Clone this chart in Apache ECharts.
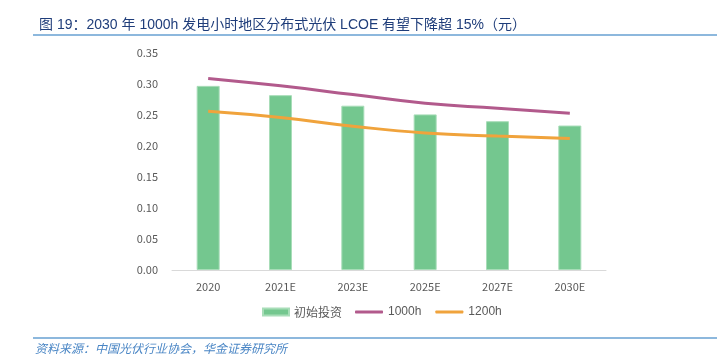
<!DOCTYPE html>
<html><head><meta charset="utf-8">
<script src="https://cdn.jsdelivr.net/npm/echarts@6/dist/echarts.min.js"></script>
<style>html,body{margin:0;padding:0;background:#fff}#c{width:722px;height:357px}</style>
</head><body><div id="c"></div>
<script>
const categories = ['2020','2021E','2023E','2025E','2027E','2030E'];
const investment = [0.297,0.282,0.265,0.251,0.240,0.233];
const h1000 = [0.309,0.297,0.283,0.269,0.261,0.253];
const h1200 = [0.256,0.246,0.232,0.221,0.216,0.212];
const yTicks = {min:0, max:0.35, interval:0.05};

const chart = echarts.init(document.getElementById('c'));
const F = '"Noto Sans CJK SC","Noto Sans",sans-serif';
const TF = '"Liberation Sans","Noto Sans CJK SC",sans-serif';
chart.setOption({
  animation:false,
  textStyle:{fontFamily:F},
  title:{text:'图 19：2030 年 1000h 发电小时地区分布式光伏 LCOE 有望下降超 15%（元）',left:34,top:13,
    textStyle:{fontSize:14,fontWeight:'normal',color:'#1F3D7A',fontFamily:TF}},
  graphic:[
    {type:'line',shape:{x1:33,y1:35,x2:717,y2:35},style:{stroke:'#8DB8DD',lineWidth:2}},
    {type:'line',shape:{x1:33,y1:338,x2:717,y2:338},style:{stroke:'#8DB8DD',lineWidth:2}},
    {type:'text',left:35,top:342,style:{text:'资料来源：中国光伏行业协会，华金证券研究所',fill:'#4A86C5',fontSize:12,fontStyle:'italic',fontFamily:F}}
  ],
  legend:[
    {top:306,left:262,padding:0,itemWidth:26,itemHeight:7,
      textStyle:{color:'#595959',fontSize:12,fontFamily:F},
      data:[{name:'初始投资',icon:'rect'}]},
    {top:306,left:355,padding:0,itemGap:14,itemWidth:28,itemHeight:3,
      textStyle:{color:'#595959',fontSize:12,fontFamily:TF},
      data:[{name:'1000h',icon:'roundRect'},{name:'1200h',icon:'roundRect'}]}
  ],
  grid:{left:172,right:116,top:53,bottom:87},
  xAxis:{type:'category',data:categories,
    axisLine:{lineStyle:{color:'#D9D9D9'}},axisTick:{show:false},
    axisLabel:{color:'#595959',fontSize:11,margin:11}},
  yAxis:{type:'value',min:yTicks.min,max:yTicks.max,interval:yTicks.interval,
    splitLine:{show:false},axisLine:{show:false},axisTick:{show:false},
    axisLabel:{color:'#595959',fontSize:11,margin:14,formatter:v=>v.toFixed(2)}},
  series:[
    {name:'初始投资',type:'bar',data:investment,barWidth:23,
      itemStyle:{color:'#74C78F',borderColor:'#A8DDB8',borderWidth:1}},
    {name:'1000h',type:'line',data:h1000,smooth:true,symbol:'none',
      lineStyle:{color:'#B25A8C',width:3},itemStyle:{color:'#B25A8C'}},
    {name:'1200h',type:'line',data:h1200,smooth:true,symbol:'none',
      lineStyle:{color:'#F0A33C',width:3},itemStyle:{color:'#F0A33C'}}
  ]
});
</script></body></html>
